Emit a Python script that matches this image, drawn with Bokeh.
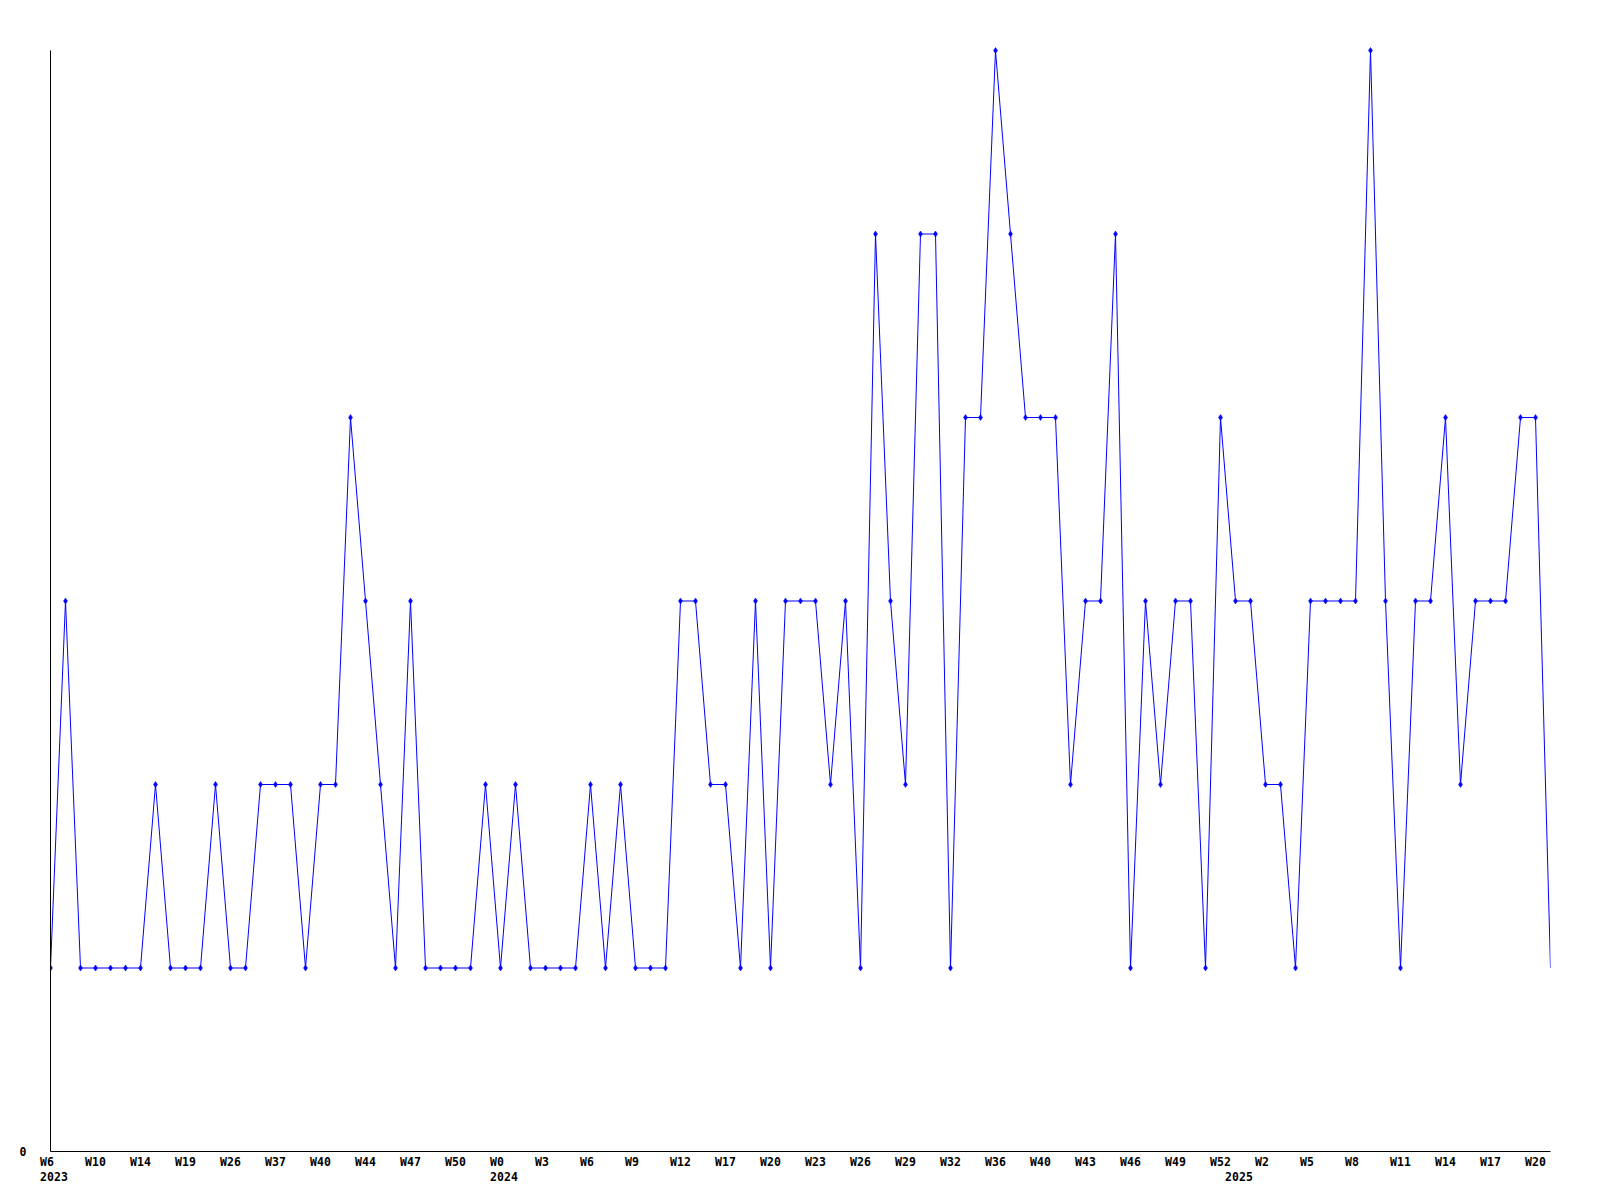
from bokeh.plotting import figure
from bokeh.models import Range1d, FixedTicker, LinearAxis
from bokeh.embed import file_html
from bokeh.resources import INLINE

# weekly counts, one per point
counts = [1, 3, 1, 1, 1, 1, 1, 2, 1, 1,
          1, 2, 1, 1, 2, 2, 2, 1, 2, 2,
          4, 3, 2, 1, 3, 1, 1, 1, 1, 2,
          1, 2, 1, 1, 1, 1, 2, 1, 2, 1,
          1, 1, 3, 3, 2, 2, 1, 3, 1, 3,
          3, 3, 2, 3, 1, 5, 3, 2, 5, 5,
          1, 4, 4, 6, 5, 4, 4, 4, 2, 3,
          3, 5, 1, 3, 2, 3, 3, 1, 4, 3,
          3, 2, 2, 1, 3, 3, 3, 3, 6, 3,
          1, 3, 3, 4, 2, 3, 3, 3, 4, 4,
          1]

# tick labels (every third point)
week_labels = ["W6", "W10", "W14", "W19", "W26", "W37", "W40", "W44", "W47", "W50",
               "W0", "W3", "W6", "W9", "W12", "W17", "W20", "W23", "W26", "W29",
               "W32", "W36", "W40", "W43", "W46", "W49", "W52", "W2", "W5", "W8",
               "W11", "W14", "W17", "W20"]
label_step = 3

year_labels = ["2023", "2024", "2025"]
year_points = [0, 30, 79]

y_max = 6
y_labels = ["0"]
y_ticks = [0]

FONT = "DejaVu Sans Mono"
FSIZE = "11.5px"
NBSP = "\u00a0"

PLOT_H = 1101          # pixel height of the 0..y_max axis
PAD_TOP = 5            # extra room so the top markers are not clipped
unit_px = PLOT_H / y_max


def left_pad(s, n=3):
    # make labels start at the same offset from their tick (left aligned look)
    if len(s) < n:
        return s + NBSP * (n - len(s))
    if len(s) > n:
        return NBSP * (len(s) - n) + s
    return s


xs = list(range(len(counts)))
tick_pos = [i * label_step for i in range(len(week_labels))]

p = figure(frame_width=1500, frame_height=PLOT_H + PAD_TOP,
           output_backend="svg", toolbar_location=None,
           x_range=Range1d(0, len(counts) - 1),
           y_range=Range1d(0, y_max + PAD_TOP / unit_px),
           min_border_left=50, min_border_top=50 - PAD_TOP, min_border_right=30,
           min_border_bottom=10, background_fill_color="white")
p.outline_line_color = None
p.grid.visible = False

p.line(xs, counts, line_color="#0000ff", line_width=1)
p.scatter(xs[:-1], counts[:-1], marker="diamond", size=6,
          fill_color="#0000ff", line_color="#0000ff", line_width=0.5)

xa = p.xaxis[0]
xa.ticker = FixedTicker(ticks=tick_pos)
xa.major_label_overrides = {t: left_pad(l) for t, l in zip(tick_pos, week_labels)}
xa.major_tick_line_color = None
xa.major_tick_out = 0
xa.major_tick_in = 0
xa.minor_tick_line_color = None
xa.minor_tick_out = 0
xa.axis_line_color = "black"
xa.major_label_standoff = 3
xa.major_label_text_font = FONT
xa.major_label_text_font_style = "bold"
xa.major_label_text_font_size = FSIZE
xa.major_label_text_color = "black"

ya = p.yaxis[0]
ya.ticker = FixedTicker(ticks=y_ticks)
ya.bounds = (0, y_max)
ya.major_label_overrides = {t: l for t, l in zip(y_ticks, y_labels)}
ya.major_tick_line_color = None
ya.major_tick_out = 0
ya.major_tick_in = 0
ya.minor_tick_line_color = None
ya.minor_tick_out = 0
ya.axis_line_color = "black"
ya.major_label_standoff = 24
ya.major_label_text_font = FONT
ya.major_label_text_font_style = "bold"
ya.major_label_text_font_size = FSIZE
ya.major_label_text_color = "black"

yr = LinearAxis(ticker=FixedTicker(ticks=year_points),
                major_label_overrides={t: left_pad(l) for t, l in zip(year_points, year_labels)},
                axis_line_color=None, major_tick_line_color=None, minor_tick_line_color=None,
                major_tick_out=0, major_tick_in=0, minor_tick_out=0,
                major_label_standoff=-2, major_label_text_font=FONT,
                major_label_text_font_style="bold", major_label_text_font_size=FSIZE,
                major_label_text_color="black")
p.add_layout(yr, "below")

open("out.html", "w").write(file_html(p, INLINE))
